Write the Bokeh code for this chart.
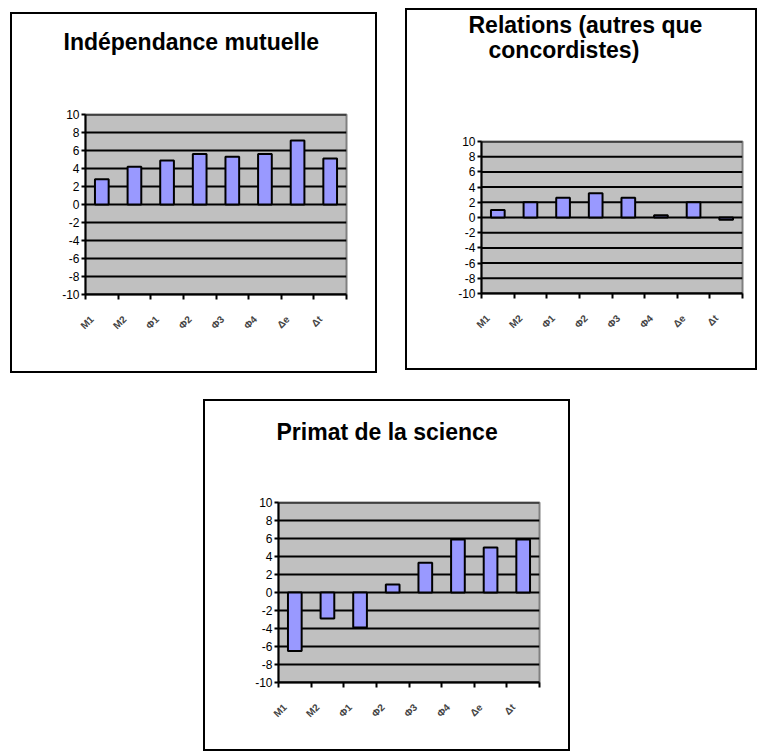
import math
from bokeh.plotting import figure
from bokeh.models import (Range1d, FixedTicker, LinearAxis, Title, Spacer)
from bokeh.layouts import row, column
from bokeh.embed import file_html
from bokeh.resources import INLINE

categories = ["M1", "M2", "Φ1", "Φ2", "Φ3", "Φ4", "Δe", "Δt"]
y_ticks = [-10, -8, -6, -4, -2, 0, 2, 4, 6, 8, 10]
y_tick_labels = ["-10", "-8", "-6", "-4", "-2", "0", "2", "4", "6", "8", "10"]

title_1 = ["Indépendance mutuelle"]
values_1 = [2.8, 4.2, 4.9, 5.6, 5.3, 5.6, 7.1, 5.1]

title_2 = ["Relations (autres que", "concordistes)"]
values_2 = [1.0, 2.0, 2.6, 3.2, 2.6, 0.3, 2.0, -0.3]

title_3 = ["Primat de la science"]
values_3 = [-6.5, -2.9, -3.9, 0.9, 3.3, 5.9, 5.0, 5.9]

BAR = "#9999ff"
BG = "#c0c0c0"
TFONT = "Liberation Sans"


def panel(values, titles, w, h, left, right, top, bottom, t_offset, t_gap, t_stand):
    n = len(values)
    p = figure(width=w, height=h, output_backend="svg", toolbar_location=None,
               x_range=Range1d(0, n), y_range=Range1d(-10, 10),
               min_border_left=left, min_border_right=right,
               min_border_top=top, min_border_bottom=bottom,
               x_axis_location=None, y_axis_location=None)
    p.background_fill_color = BG
    p.border_fill_color = None
    p.outline_line_color = "#808080"
    p.outline_line_width = 2
    p.styles = {"outline": "2px solid black", "outline-offset": "0px"}
    p.ygrid.visible = False
    p.xgrid.visible = False

    # y axis
    ya = LinearAxis(ticker=FixedTicker(ticks=y_ticks))
    ya.axis_line_color = "black"
    ya.axis_line_width = 2
    ya.major_tick_line_color = "black"
    ya.major_tick_line_width = 2
    ya.major_tick_out = 4
    ya.major_tick_in = 0
    ya.minor_tick_line_color = None
    ya.major_label_overrides = {v: s for v, s in zip(y_ticks, y_tick_labels)}
    ya.major_label_standoff = 2
    ya.major_label_text_font = TFONT
    ya.major_label_text_font_size = "12px"
    ya.major_label_text_color = "black"
    p.add_layout(ya, "left")

    # x axis: tick marks at category boundaries
    xa = LinearAxis(ticker=FixedTicker(ticks=list(range(n + 1))))
    xa.axis_line_color = "black"
    xa.axis_line_width = 2
    xa.major_tick_line_color = "black"
    xa.major_tick_line_width = 2
    xa.major_tick_out = 5
    xa.major_tick_in = 0
    xa.minor_tick_line_color = None
    xa.major_label_overrides = {i: "" for i in range(n + 1)}
    xa.major_label_text_font_size = "1px"
    xa.major_label_standoff = 0
    p.add_layout(xa, "below")

    # x axis: category labels (rotated, anchored slightly left of centre)
    centers = [i + 0.5 for i in range(n)]
    label_pos = [c - 0.3 for c in centers]
    xl = LinearAxis(ticker=FixedTicker(ticks=label_pos))
    xl.axis_line_color = None
    xl.major_tick_line_color = None
    xl.minor_tick_line_color = None
    xl.major_label_overrides = {c: categories[i] for i, c in enumerate(label_pos)}
    xl.major_label_orientation = math.pi / 4
    xl.major_label_text_font = TFONT
    xl.major_label_text_font_style = "bold"
    xl.major_label_text_font_size = "10px"
    xl.major_label_standoff = 12
    p.add_layout(xl, "below")

    # horizontal grid lines
    p.multi_line(xs=[[0, n] for _ in y_ticks], ys=[[v, v] for v in y_ticks],
                 line_color="black", line_width=2)

    p.vbar(x=centers, top=values, bottom=0, width=0.42,
           fill_color=BAR, line_color="black", line_width=2)

    # spacer title nearest the frame, then the real title lines outward
    p.add_layout(Title(text=" ", text_font_size="1px", standoff=t_gap), "above")
    for k, t in enumerate(reversed(titles)):
        p.add_layout(Title(text=t, align="left",
                           offset=t_offset[len(titles) - 1 - k], standoff=t_stand,
                           text_font=TFONT, text_font_style="bold",
                           text_font_size="23px", text_color="black"), "above")
    return p


# panel boxes: P1 (10,12)-(377,373), P2 (405,8)-(757,370), P3 (203,399)-(570,751)
p1 = panel(values_1, title_1, 363, 357, 73, 29, 100, 77, [-22], 57, 0)
p2 = panel(values_2, title_2, 348, 358, 74, 13, 131, 75, [-13, 7], 77, -3)
p3 = panel(values_3, title_3, 363, 348, 73, 29, 101, 67, [-2], 55, 0)

layout = column(
    row(Spacer(width=12), column(Spacer(height=14), p1), Spacer(width=32),
        column(Spacer(height=10), p2)),
    Spacer(height=30),
    row(Spacer(width=205), p3),
)

open("out.html", "w").write(file_html(layout, INLINE))
